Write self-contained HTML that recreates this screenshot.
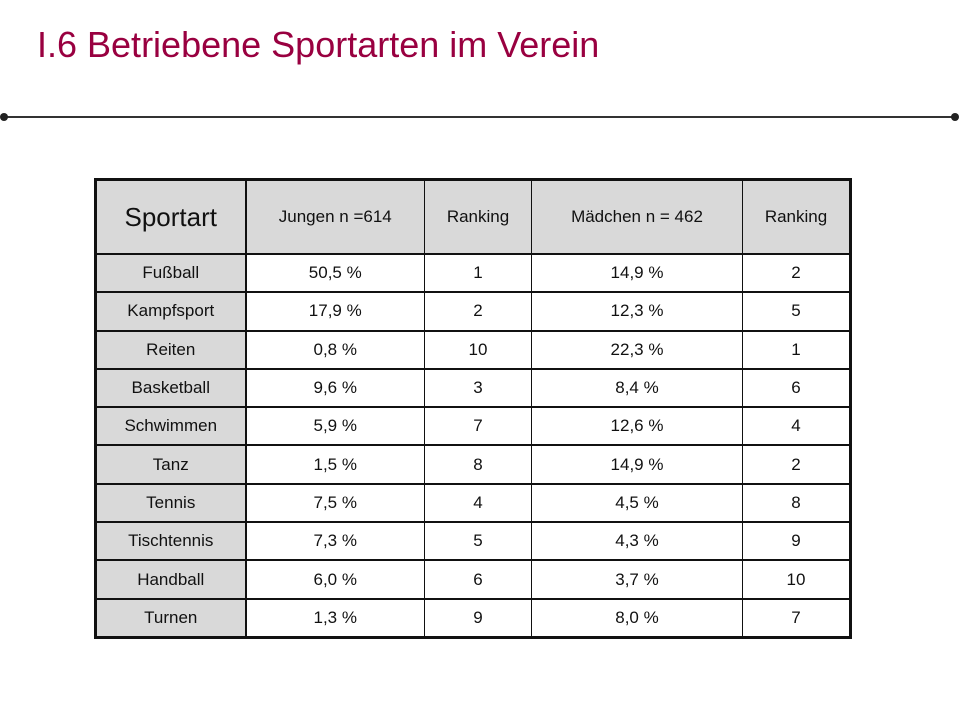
<!DOCTYPE html>
<html><head><meta charset="utf-8"><style>
html,body{margin:0;padding:0;background:#fff;}
body{width:960px;height:720px;position:relative;overflow:hidden;font-family:"Liberation Sans",Arial,sans-serif;}
#title{position:absolute;left:37px;top:24px;font-size:36px;color:#990040;white-space:nowrap;}
#rule{position:absolute;left:4px;top:116px;width:951px;height:2px;background:#333;}
.dot{position:absolute;top:113px;width:8px;height:8px;border-radius:50%;background:#222;}
table{position:absolute;left:94px;top:178px;border-collapse:collapse;border:3px solid #111;table-layout:fixed;}
td{border-left:1px solid #111;border-right:1px solid #111;border-top:2px solid #111;border-bottom:2px solid #111;text-align:center;font-size:17px;color:#111;height:36.3px;padding:0;}
tr.h td{background:#d9d9d9;height:72px;}
td.c0{background:#d9d9d9;border-right:2px solid #111;}
tr.h td.c0{font-size:26px;}
</style></head><body>
<div id="title">I.6 Betriebene Sportarten im Verein</div>
<div id="rule"></div>
<div class="dot" style="left:0px"></div>
<div class="dot" style="left:951px"></div>
<table>
<colgroup><col style="width:150px"><col style="width:179px"><col style="width:107px"><col style="width:211px"><col style="width:108px"></colgroup>
<tr class="h"><td class="c0">Sportart</td><td>Jungen n =614</td><td>Ranking</td><td>Mädchen n = 462</td><td>Ranking</td></tr>
<tr><td class="c0">Fußball</td><td>50,5 %</td><td>1</td><td>14,9 %</td><td>2</td></tr>
<tr><td class="c0">Kampfsport</td><td>17,9 %</td><td>2</td><td>12,3 %</td><td>5</td></tr>
<tr><td class="c0">Reiten</td><td>0,8 %</td><td>10</td><td>22,3 %</td><td>1</td></tr>
<tr><td class="c0">Basketball</td><td>9,6 %</td><td>3</td><td>8,4 %</td><td>6</td></tr>
<tr><td class="c0">Schwimmen</td><td>5,9 %</td><td>7</td><td>12,6 %</td><td>4</td></tr>
<tr><td class="c0">Tanz</td><td>1,5 %</td><td>8</td><td>14,9 %</td><td>2</td></tr>
<tr><td class="c0">Tennis</td><td>7,5 %</td><td>4</td><td>4,5 %</td><td>8</td></tr>
<tr><td class="c0">Tischtennis</td><td>7,3 %</td><td>5</td><td>4,3 %</td><td>9</td></tr>
<tr><td class="c0">Handball</td><td>6,0 %</td><td>6</td><td>3,7 %</td><td>10</td></tr>
<tr><td class="c0">Turnen</td><td>1,3 %</td><td>9</td><td>8,0 %</td><td>7</td></tr>
</table>
</body></html>
